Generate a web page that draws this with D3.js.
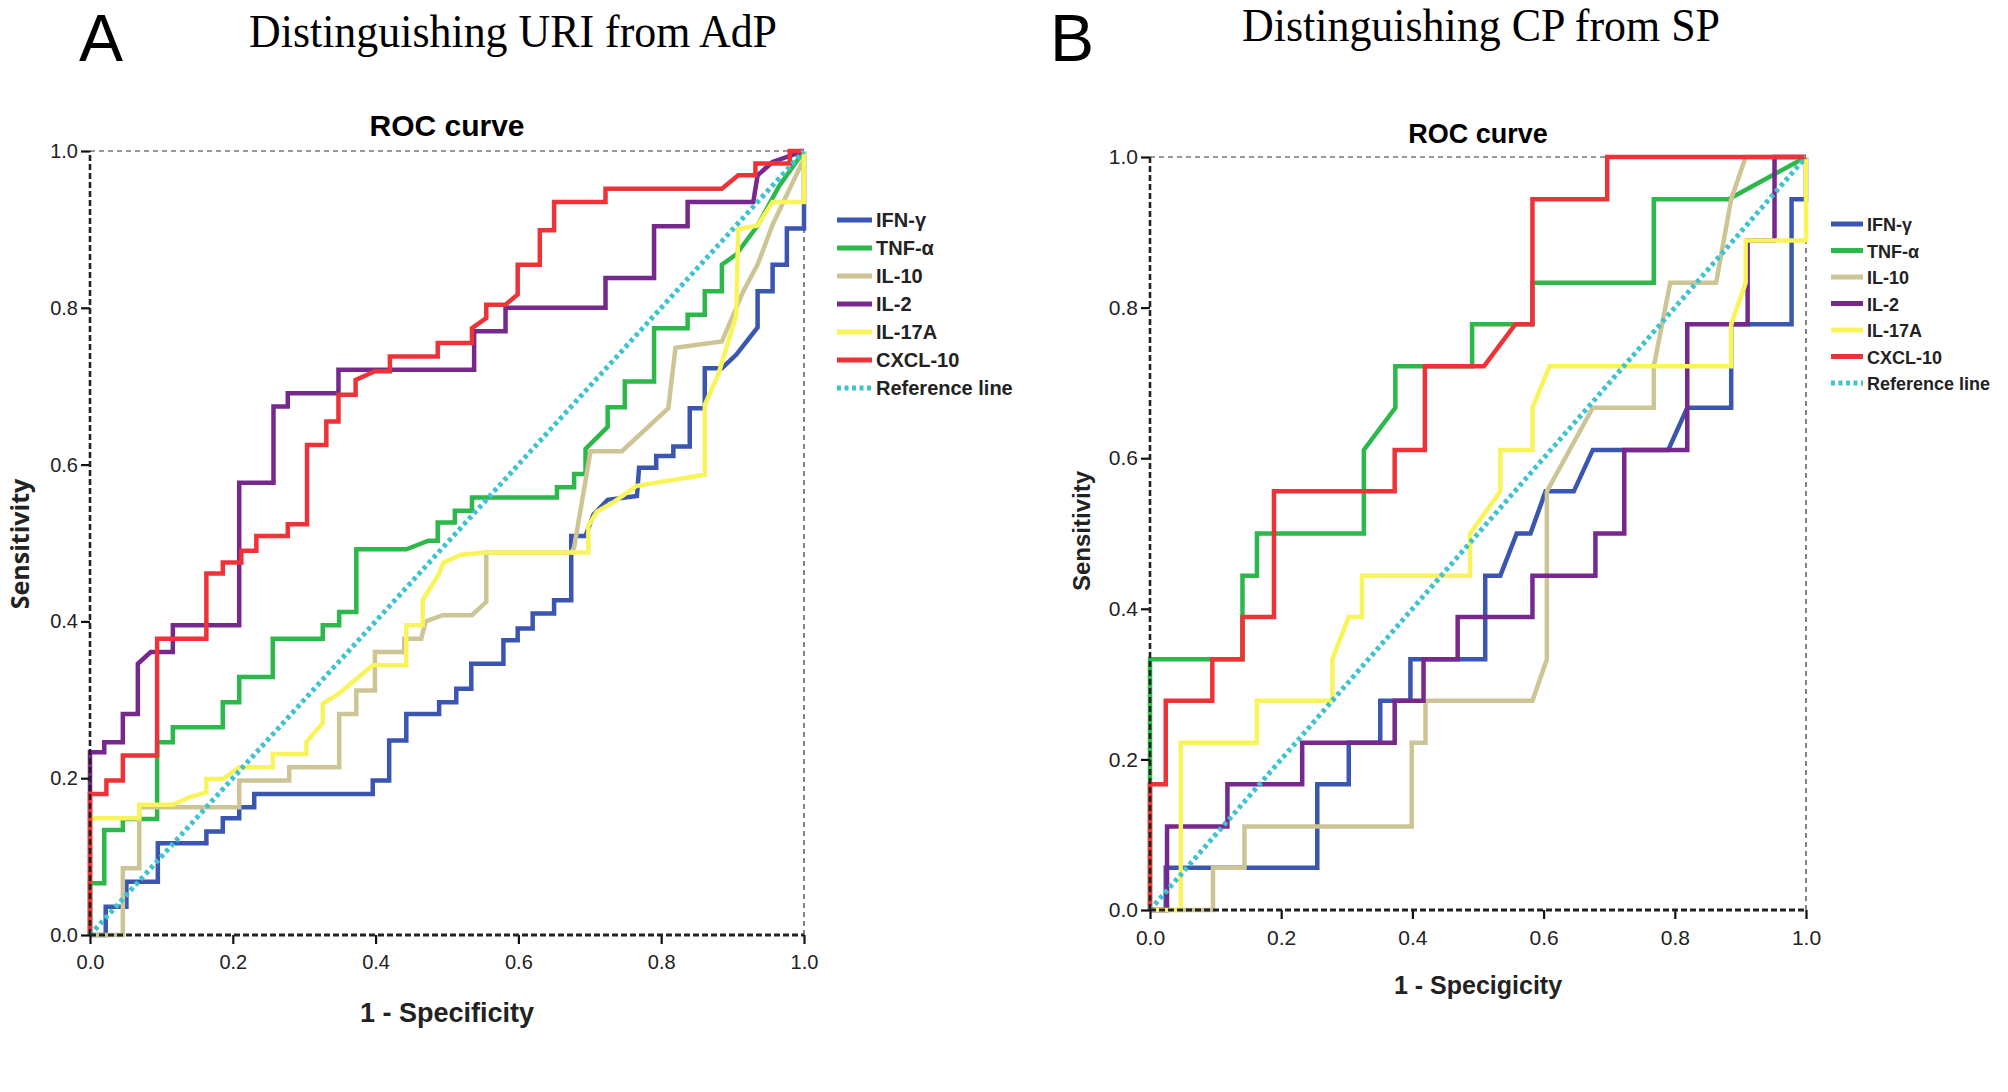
<!DOCTYPE html>
<html>
<head>
<meta charset="utf-8">
<script src="https://cdn.jsdelivr.net/npm/d3@7"></script>
<style>
body { margin: 0; background: #fff; }
</style>
</head>
<body>
<svg id="fig" width="2008" height="1092"></svg>
<script>
// legend names and colours, same order in both panels
const seriesNames = ["IFN-γ", "TNF-α", "IL-10", "IL-2", "IL-17A", "CXCL-10"];
const seriesColors = ["#3a56b0", "#2cb84a", "#cdc595", "#77288c", "#f8f45a", "#ee3338"];
const refColor = "#3fc3cf";
const axisTicks = [0, 0.2, 0.4, 0.6, 0.8, 1.0];
const refLine = [[0, 0], [1, 1]];

// panel A: URI vs AdP  (1 - specificity, sensitivity)
const aIFN = [[0,0],[0.022,0],[0.022,0.036],[0.051,0.036],[0.051,0.068],[0.095,0.068],[0.095,0.117],[0.163,0.117],[0.163,0.132],[0.186,0.132],[0.186,0.149],[0.209,0.149],[0.209,0.163],[0.230,0.163],[0.230,0.180],[0.396,0.180],[0.396,0.197],[0.419,0.197],[0.419,0.248],[0.443,0.248],[0.443,0.282],[0.489,0.282],[0.489,0.297],[0.513,0.297],[0.513,0.314],[0.534,0.314],[0.534,0.346],[0.579,0.346],[0.579,0.376],[0.599,0.376],[0.599,0.391],[0.620,0.391],[0.620,0.410],[0.650,0.410],[0.650,0.427],[0.674,0.427],[0.674,0.509],[0.694,0.509],[0.705,0.536],[0.725,0.555],[0.766,0.560],[0.769,0.596],[0.793,0.596],[0.793,0.611],[0.817,0.611],[0.817,0.623],[0.840,0.623],[0.840,0.672],[0.861,0.672],[0.861,0.723],[0.885,0.723],[0.905,0.740],[0.935,0.775],[0.935,0.821],[0.956,0.821],[0.956,0.855],[0.976,0.855],[0.976,0.901],[1,0.901],[1,1]];
const aTNF = [[0,0],[0,0.066],[0.020,0.066],[0.020,0.134],[0.046,0.134],[0.046,0.148],[0.094,0.148],[0.094,0.246],[0.116,0.246],[0.116,0.265],[0.186,0.265],[0.186,0.297],[0.209,0.297],[0.209,0.329],[0.256,0.329],[0.256,0.378],[0.326,0.378],[0.326,0.395],[0.349,0.395],[0.349,0.412],[0.373,0.412],[0.373,0.492],[0.443,0.492],[0.474,0.503],[0.487,0.503],[0.487,0.526],[0.511,0.526],[0.511,0.541],[0.535,0.541],[0.535,0.558],[0.654,0.558],[0.654,0.571],[0.678,0.571],[0.678,0.588],[0.694,0.588],[0.694,0.620],[0.725,0.648],[0.725,0.673],[0.749,0.673],[0.749,0.706],[0.790,0.706],[0.790,0.774],[0.837,0.774],[0.837,0.791],[0.861,0.791],[0.861,0.821],[0.885,0.821],[0.885,0.855],[0.905,0.868],[0.935,0.905],[0.965,0.955],[1,1]];
const aIL10 = [[0,0],[0.046,0],[0.046,0.085],[0.069,0.085],[0.069,0.163],[0.209,0.163],[0.209,0.197],[0.279,0.197],[0.279,0.214],[0.349,0.214],[0.349,0.282],[0.373,0.282],[0.373,0.312],[0.399,0.312],[0.399,0.361],[0.440,0.361],[0.440,0.378],[0.464,0.378],[0.470,0.400],[0.494,0.408],[0.535,0.408],[0.555,0.425],[0.555,0.488],[0.674,0.488],[0.678,0.494],[0.701,0.617],[0.745,0.617],[0.810,0.672],[0.820,0.749],[0.885,0.757],[0.905,0.800],[0.915,0.821],[0.935,0.855],[0.956,0.906],[1,0.990],[1,1]];
const aIL2 = [[0,0],[0,0.233],[0.020,0.233],[0.020,0.246],[0.046,0.246],[0.046,0.282],[0.067,0.282],[0.067,0.346],[0.085,0.361],[0.116,0.361],[0.116,0.395],[0.209,0.395],[0.209,0.577],[0.257,0.577],[0.257,0.674],[0.277,0.674],[0.277,0.691],[0.348,0.691],[0.348,0.721],[0.538,0.721],[0.538,0.770],[0.582,0.770],[0.582,0.800],[0.722,0.800],[0.722,0.838],[0.790,0.838],[0.790,0.904],[0.837,0.904],[0.837,0.935],[0.929,0.935],[0.935,0.969],[0.956,0.986],[1,1]];
const aIL17A = [[0,0],[0,0.149],[0.069,0.149],[0.069,0.166],[0.116,0.166],[0.140,0.176],[0.163,0.182],[0.163,0.199],[0.186,0.199],[0.209,0.214],[0.256,0.214],[0.256,0.231],[0.303,0.231],[0.303,0.246],[0.326,0.270],[0.326,0.295],[0.349,0.308],[0.396,0.344],[0.443,0.344],[0.443,0.395],[0.466,0.395],[0.466,0.427],[0.489,0.461],[0.495,0.475],[0.520,0.485],[0.555,0.488],[0.698,0.488],[0.698,0.522],[0.710,0.540],[0.735,0.553],[0.766,0.573],[0.861,0.587],[0.861,0.676],[0.880,0.715],[0.905,0.790],[0.908,0.900],[0.935,0.905],[0.956,0.935],[1,0.935],[1,1]];
const aCXCL10 = [[0,0],[0,0.180],[0.023,0.180],[0.023,0.197],[0.046,0.197],[0.046,0.229],[0.094,0.229],[0.094,0.378],[0.163,0.378],[0.163,0.461],[0.186,0.461],[0.186,0.475],[0.212,0.475],[0.212,0.490],[0.233,0.490],[0.233,0.509],[0.277,0.509],[0.277,0.524],[0.304,0.524],[0.304,0.625],[0.331,0.625],[0.331,0.655],[0.348,0.655],[0.348,0.689],[0.372,0.689],[0.372,0.708],[0.399,0.719],[0.420,0.719],[0.420,0.738],[0.487,0.738],[0.487,0.755],[0.535,0.755],[0.535,0.774],[0.555,0.787],[0.555,0.804],[0.582,0.804],[0.599,0.817],[0.599,0.855],[0.630,0.855],[0.630,0.899],[0.650,0.899],[0.650,0.935],[0.722,0.935],[0.722,0.952],[0.885,0.952],[0.908,0.969],[0.932,0.969],[0.932,0.984],[0.980,0.984],[0.980,1],[1,1]];

// panel B: CP vs SP
const bIFN = [[0,0],[0.024,0],[0.024,0.056],[0.255,0.056],[0.255,0.167],[0.303,0.167],[0.303,0.222],[0.351,0.222],[0.351,0.278],[0.397,0.278],[0.397,0.333],[0.511,0.333],[0.511,0.444],[0.534,0.444],[0.559,0.5],[0.58,0.5],[0.603,0.556],[0.646,0.556],[0.675,0.611],[0.79,0.611],[0.819,0.667],[0.886,0.667],[0.886,0.778],[0.978,0.778],[0.978,0.944],[1,0.944],[1,1]];
const bTNF = [[0,0],[0,0.333],[0.141,0.333],[0.141,0.444],[0.163,0.444],[0.163,0.5],[0.326,0.5],[0.326,0.611],[0.374,0.667],[0.374,0.722],[0.491,0.722],[0.491,0.778],[0.583,0.778],[0.583,0.833],[0.768,0.833],[0.768,0.944],[0.882,0.944],[1,1]];
const bIL10 = [[0,0],[0.096,0],[0.096,0.056],[0.144,0.056],[0.144,0.111],[0.399,0.111],[0.399,0.222],[0.42,0.222],[0.42,0.278],[0.583,0.278],[0.605,0.333],[0.605,0.556],[0.675,0.667],[0.768,0.667],[0.768,0.722],[0.793,0.833],[0.863,0.833],[0.886,0.944],[0.908,1],[1,1]];
const bIL2 = [[0,0],[0.026,0],[0.026,0.111],[0.118,0.111],[0.118,0.167],[0.232,0.167],[0.232,0.222],[0.373,0.222],[0.373,0.278],[0.417,0.278],[0.417,0.333],[0.469,0.333],[0.469,0.389],[0.583,0.389],[0.583,0.444],[0.679,0.444],[0.679,0.5],[0.723,0.5],[0.723,0.611],[0.819,0.611],[0.819,0.778],[0.911,0.778],[0.911,0.889],[0.952,0.889],[0.952,1],[1,1]];
const bIL17A = [[0,0],[0.047,0],[0.047,0.222],[0.163,0.222],[0.163,0.278],[0.278,0.278],[0.278,0.333],[0.303,0.389],[0.323,0.389],[0.323,0.444],[0.488,0.444],[0.488,0.5],[0.534,0.556],[0.534,0.611],[0.583,0.611],[0.583,0.667],[0.609,0.722],[0.886,0.722],[0.886,0.778],[0.908,0.833],[0.908,0.889],[1,0.889],[1,1]];
const bCXCL10 = [[0,0],[0,0.167],[0.024,0.167],[0.024,0.278],[0.095,0.278],[0.095,0.333],[0.141,0.333],[0.141,0.389],[0.189,0.389],[0.189,0.556],[0.373,0.556],[0.373,0.611],[0.419,0.611],[0.419,0.722],[0.509,0.722],[0.557,0.778],[0.583,0.778],[0.583,0.944],[0.697,0.944],[0.697,1],[1,1]];

const svg = d3.select('#fig');

function drawPanel(p) {
  const x = d3.scaleLinear().domain([0, 1]).range([p.left, p.right]);
  const y = d3.scaleLinear().domain([0, 1]).range([p.bottom, p.top]);
  const g = svg.append('g');

  // panel letter + title
  g.append('text').attr('x', p.letterX).attr('y', 61)
    .attr('font-family', 'Liberation Sans, Arial, sans-serif').attr('font-size', 66)
    .text(p.letter);
  g.append('text').attr('x', p.titleX).attr('y', p.titleY).attr('text-anchor', 'middle')
    .attr('font-family', 'Liberation Serif, Times New Roman, serif').attr('font-size', 46)
    .attr('textLength', p.titleW).attr('lengthAdjust', 'spacingAndGlyphs')
    .text(p.title);
  g.append('text').attr('x', (p.left + p.right) / 2).attr('y', p.rocY).attr('text-anchor', 'middle')
    .attr('font-family', 'Liberation Sans, Arial, sans-serif').attr('font-weight', 'bold')
    .attr('font-size', p.rocSize).text('ROC curve');

  // dashed frame at top and right
  g.append('line').attr('x1', x(0)).attr('x2', x(1)).attr('y1', y(1)).attr('y2', y(1))
    .attr('stroke', '#777').attr('stroke-width', 1.6).attr('stroke-dasharray', '5,4');
  g.append('line').attr('x1', x(1)).attr('x2', x(1)).attr('y1', y(0)).attr('y2', y(1))
    .attr('stroke', '#666').attr('stroke-width', 1.6).attr('stroke-dasharray', '5,4');

  // curves
  const line = d3.line().x(d => x(d[0])).y(d => y(d[1]));
  p.series.forEach((s, i) => {
    g.append('path').attr('d', line(s)).attr('fill', 'none')
      .attr('stroke', seriesColors[i]).attr('stroke-width', p.lw)
      .attr('stroke-linejoin', 'miter');
  });
  g.append('path').attr('d', line(refLine)).attr('fill', 'none')
    .attr('stroke', refColor).attr('stroke-width', 5).attr('stroke-dasharray', '4,3.5');

  // axes
  const fmt = d3.format('.1f');
  const yAx = g.append('g').attr('transform', `translate(${x(0)},0)`)
    .call(d3.axisLeft(y).tickValues(axisTicks).tickFormat(fmt).tickSize(9).tickPadding(3));
  const xAx = g.append('g').attr('transform', `translate(0,${y(0)})`)
    .call(d3.axisBottom(x).tickValues(axisTicks).tickFormat(fmt).tickSize(9).tickPadding(11));
  [yAx, xAx].forEach(a => {
    a.select('.domain').remove();
    a.selectAll('line').attr('stroke', '#111').attr('stroke-width', 2.2);
    a.selectAll('text').attr('font-family', 'Liberation Sans, Arial, sans-serif')
      .attr('font-size', p.tickSize).attr('fill', '#222');
  });
  g.append('line').attr('x1', x(0)).attr('x2', x(0)).attr('y1', y(0)).attr('y2', y(1))
    .attr('stroke', '#222').attr('stroke-width', 2.6).attr('stroke-dasharray', '6,3');
  g.append('line').attr('x1', x(0)).attr('x2', x(1)).attr('y1', y(0)).attr('y2', y(0))
    .attr('stroke', '#222').attr('stroke-width', 2.8).attr('stroke-dasharray', '6,3');

  // axis titles
  g.append('text').attr('x', (p.left + p.right) / 2).attr('y', p.xTitleY).attr('text-anchor', 'middle')
    .attr('font-family', 'Liberation Sans, Arial, sans-serif').attr('font-weight', 'bold')
    .attr('font-size', p.xTitleSize).attr('fill', '#222').text(p.xTitle);
  g.append('text').attr('transform', `translate(${p.yTitleX},${p.yTitleY}) rotate(-90)`)
    .attr('text-anchor', 'middle')
    .attr('font-family', p.yTitleFont).attr('font-weight', 'bold')
    .attr('font-size', p.yTitleSize).attr('fill', '#222').text('Sensitivity');

  // legend
  const items = seriesNames.map((n, i) => ({ name: n, color: seriesColors[i], dash: null }))
    .concat([{ name: 'Reference line', color: refColor, dash: '4,3.5' }]);
  const lg = g.append('g').attr('transform', `translate(${p.legX},${p.legY})`);
  items.forEach((it, i) => {
    const row = lg.append('g').attr('transform', `translate(0,${i * p.legStep})`);
    row.append('line').attr('x1', 0).attr('x2', p.legLen).attr('y1', 0).attr('y2', 0)
      .attr('stroke', it.color).attr('stroke-width', 5).attr('stroke-dasharray', it.dash);
    row.append('text').attr('x', p.legLen + 4).attr('y', 7)
      .attr('font-family', 'Liberation Sans, Arial, sans-serif').attr('font-weight', 'bold')
      .attr('font-size', p.legSize).attr('fill', '#222').text(it.name);
  });
}

drawPanel({
  letter: 'A', letterX: 79, title: 'Distinguishing URI from AdP', titleX: 513, titleY: 47, titleW: 528,
  left: 90, right: 804, top: 151, bottom: 935, rocY: 136, rocSize: 30, lw: 4.5, tickSize: 20,
  xTitle: '1 - Specificity', xTitleY: 1022, xTitleSize: 27,
  yTitleX: 29, yTitleY: 544, yTitleSize: 25, yTitleFont: 'Open Sans, Liberation Sans, sans-serif',
  legX: 837, legY: 220, legStep: 28, legLen: 35, legSize: 20,
  series: [aIFN, aTNF, aIL10, aIL2, aIL17A, aCXCL10]
});

drawPanel({
  letter: 'B', letterX: 1050, title: 'Distinguishing CP from SP', titleX: 1481, titleY: 41, titleW: 478,
  left: 1150, right: 1806, top: 157, bottom: 910, rocY: 143, rocSize: 27, lw: 4.5, tickSize: 21,
  xTitle: '1 - Specigicity', xTitleY: 994, xTitleSize: 25,
  yTitleX: 1090, yTitleY: 531, yTitleSize: 24, yTitleFont: 'Liberation Sans, Arial, sans-serif',
  legX: 1831, legY: 224, legStep: 26.5, legLen: 32, legSize: 18,
  series: [bIFN, bTNF, bIL10, bIL2, bIL17A, bCXCL10]
});
</script>
</body>
</html>
